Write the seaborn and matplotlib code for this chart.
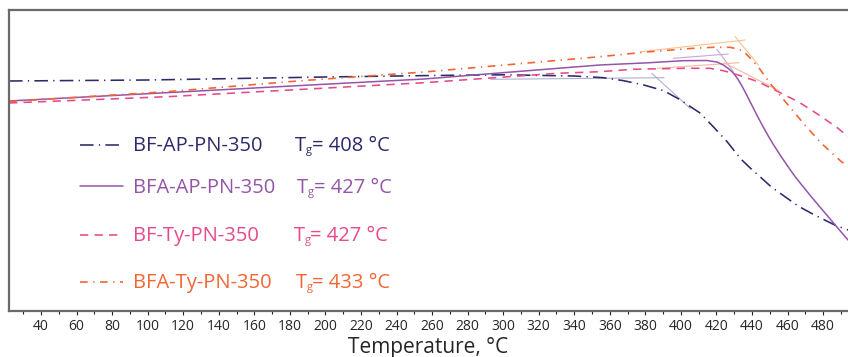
import numpy as np
import pandas as pd
import seaborn as sns
import matplotlib.pyplot as plt
from matplotlib.transforms import offset_copy

# thermal expansion curves (arbitrary units)
t_bf_ap = [22, 100, 200, 260, 300, 340, 356.4, 367.8, 379.1, 390.4, 399.8, 411.0,
           418.5, 426.0, 431.0, 434.0, 438.7, 443.4, 450.9, 458.4, 465.9, 473.4,
           480.9, 486.5, 494]
y_bf_ap = [23.0, 23.1, 23.4, 23.55, 23.62, 23.5, 23.33, 23.03, 22.6, 22.03, 21.1,
           19.77, 18.37, 16.93, 15.8, 15.15, 14.35, 13.6, 12.4, 11.45, 10.5, 9.77,
           9.1, 8.6, 8.1]

t_bfa_ap = [22, 100, 200, 255.5, 311.8, 354.4, 382.5, 401.1, 414.6, 420.2, 423.9,
            426.7, 429.5, 432.0, 434.5, 437.0, 440.0, 443.0, 446.0, 449.0, 452.0,
            456.0, 460.0, 464.0, 468.0, 473.0, 478.0, 483.0, 488.0, 494]
y_bfa_ap = [21.0, 21.73, 22.68, 23.2, 24.0, 24.6, 24.83, 25.03, 25.05, 24.9, 24.6,
            24.25, 23.8, 23.2, 22.45, 21.6, 20.55, 19.5, 18.5, 17.55, 16.65, 15.55,
            14.5, 13.5, 12.6, 11.5, 10.45, 9.4, 8.35, 7.1]

t_bf_ty = [22, 110.9, 255.5, 330.3, 354.4, 372.9, 401.1, 416.3, 423.8, 427.7,
           434.0, 443.4, 456.5, 465.9, 473.4, 480.9, 488.4, 494]
y_bf_ty = [20.8, 21.43, 22.83, 23.77, 23.93, 24.17, 24.27, 24.27, 24.03, 23.85,
           23.5, 22.93, 21.77, 20.93, 20.1, 19.2, 18.27, 17.43]

t_bfa_ty = [22, 110.9, 185.7, 255.5, 311.8, 354.4, 382.5, 406.9, 418.2, 427.7,
            432.4, 435.0, 437.3, 440.0, 443.4, 450.9, 460.3, 469.7, 479.0, 490.3,
            494]
y_bfa_ty = [20.95, 21.93, 23.02, 23.9, 24.77, 25.43, 25.93, 26.27, 26.37, 26.37,
            26.17, 26.0, 25.6, 25.1, 24.43, 22.6, 20.6, 18.6, 16.77, 14.93, 14.5]

names = ["BF-AP-PN-350", "BFA-AP-PN-350", "BF-Ty-PN-350", "BFA-Ty-PN-350"]
tg_values = [408, 427, 427, 433]
colors = ["#2c2a6b", "#9455a8", "#e64a8a", "#f26634"]
tangent_colors = ["#b1afce", "#cba6d8", "#f6b89e", "#f9c291"]

# tangent construction lines (onset method): [t0, t1], [y0, y1]
tangents = [
    [([293.0, 390.5], [23.17, 23.33]), ([383.6, 405.2], [23.77, 20.27])],
    [([395.7, 426.7], [25.27, 25.7]), ([420.2, 429.5], [26.17, 23.96])],
    [([386.7, 432.7], [24.27, 24.83]), ([424.3, 455.2], [24.83, 22.03])],
    [([377.4, 436.1], [25.93, 27.1]), ([430.5, 443.6], [27.43, 24.6])],
]

sns.set_theme(style="white")
plt.rcParams["font.family"] = ["Open Sans", "DejaVu Sans"]

fig = plt.figure(figsize=(8.48, 3.57), dpi=100)
ax = fig.add_axes([9 / 848, 1 - 311 / 357, 839 / 848, 301 / 357])

styles = [(0, (8.5, 3.3, 0.8, 3.3)), "-", (0, (5.2, 3.9)), (0, (4.6, 3.3, 0.8, 3.3))]
widths = [1.15, 1.1, 1.15, 1.2]

series = [(t_bf_ap, y_bf_ap), (t_bfa_ap, y_bfa_ap), (t_bf_ty, y_bf_ty), (t_bfa_ty, y_bfa_ty)]

for i, (t, y) in enumerate(series):
    for tx, ty in tangents[i]:
        sns.lineplot(x=tx, y=ty, ax=ax, color=tangent_colors[i], linewidth=0.8)

for i, (t, y) in enumerate(series):
    df = pd.DataFrame({"T": t, "dL": y})
    sns.lineplot(data=df, x="T", y="dL", ax=ax, color=colors[i],
                 linestyle=styles[i], linewidth=widths[i], sort=False)

ax.set_xlim(22, 494)
ax.set_ylim(0, 30.1)
ax.set_yticks([])
ax.set_ylabel("")
ax.set_xticks(np.arange(40, 481, 20))
ax.set_xticks(np.arange(30, 491, 10), minor=True)
ax.tick_params(axis="x", which="major", direction="out", length=3, width=0.8,
               color="#222222", labelsize=10, pad=3, bottom=True)
ax.tick_params(axis="x", which="minor", direction="out", length=2.5, width=0.8,
               color="#222222", bottom=True)
ax.set_xlabel("Temperature, °C", fontsize=15, labelpad=2)

for side in ["left", "top", "bottom"]:
    ax.spines[side].set_color("#6a6a6a")
    ax.spines[side].set_linewidth(1.6)
ax.spines["right"].set_visible(False)

# legend block drawn by hand (handle, name, Tg)
row_base = [151, 193, 241, 288]
row_line = [145, 186, 235, 282]
tg_x = [295, 297, 294, 296]
for i in range(4):
    yl = (311 - row_line[i]) / 301
    ax.plot([(80 - 9) / 839, (123 - 9) / 839], [yl, yl], transform=ax.transAxes,
            color=colors[i], linestyle=styles[i], linewidth=widths[i])
    yb = (311 - row_base[i]) / 301
    ax.text((133 - 9) / 839, yb, names[i], transform=ax.transAxes,
            color=colors[i], fontsize=14.5, va="baseline", ha="left")
    xt = (tg_x[i] - 9) / 839
    ax.text(xt, yb, "T", transform=ax.transAxes, color=colors[i],
            fontsize=14.5, va="baseline", ha="left")
    ax.text(xt, yb, "g", transform=offset_copy(ax.transAxes, fig, x=10.5, y=-2, units="dots"),
            color=colors[i], fontsize=8, va="baseline", ha="left")
    ax.text(xt, yb, "= %d °C" % tg_values[i],
            transform=offset_copy(ax.transAxes, fig, x=16.5, y=0, units="dots"),
            color=colors[i], fontsize=14.5, va="baseline", ha="left")

fig.savefig("out.png", dpi=100)
